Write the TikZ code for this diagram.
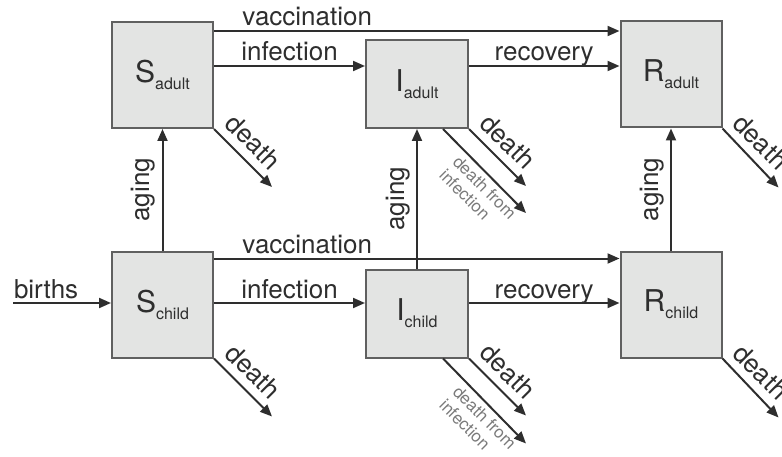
\documentclass[tikz,border=0pt]{standalone}
\usepackage{fontspec}
\setmainfont{TeX Gyre Heros}
\usetikzlibrary{arrows.meta,calc}
\definecolor{boxfill}{HTML}{E3E4E3}
\definecolor{boxline}{HTML}{606060}
\definecolor{ink}{HTML}{2E2E2E}
\definecolor{faint}{HTML}{7A7A7A}
\newcommand{\boxlabel}[2]{{\fontsize{15}{18}\selectfont #1}\raisebox{-3.5pt}{\fontsize{8}{10}\selectfont #2}}

\begin{document}
\begin{tikzpicture}[x=0.5pt, y=0.5pt,
    compart/.style={draw=boxline, line width=1pt, fill=boxfill, text=ink, minimum width=50.5pt, minimum height=53pt, inner sep=0pt},
    infbox/.style={compart, minimum width=51pt, minimum height=44pt},
    arr/.style={-{Triangle[length=6pt,width=5pt]}, line width=1pt, draw=ink},
    lbl/.style={font=\fontsize{13}{15}\selectfont, text=ink, inner sep=0pt},
    flow/.style={lbl, anchor=base, yshift=2.5pt},
    tilt/.style={lbl, rotate=-45, anchor=south, inner sep=4pt},
    upright/.style={lbl, rotate=90, anchor=south, inner sep=3pt},
    smalllbl/.style={font=\fontsize{8.5}{9.5}\selectfont, text=faint, align=left, rotate=-45, anchor=north, inner sep=2pt}
]
\useasboundingbox (0,0) rectangle (782,456);

\node[compart] (Sa) at (162.5,381) {\boxlabel{S}{adult}};
\node[infbox] (Ia) at (417,372) {\boxlabel{I}{adult}};
\node[compart] (Ra) at (671,381.5) {\boxlabel{R}{adult}};
\node[compart] (Sc) at (162.5,151.5) {\boxlabel{S}{child}};
\node[infbox] (Ic) at (417,142.5) {\boxlabel{I}{child}};
\node[compart] (Rc) at (671,151.5) {\boxlabel{R}{child}};

\draw[arr] ($(Sa.north east)+(0,-10)$) coordinate (v1) -- (v1 -| Ra.west) node[flow, pos=.23] {vaccination};
\draw[arr] ($(Sa.north east)+(0,-45)$) coordinate (f1) -- (f1 -| Ia.west) node[flow, midway] {infection};
\draw[arr] (f1 -| Ia.east) -- (f1 -| Ra.west) node[flow, midway] {recovery};

\draw[arr] ($(Sc.north east)+(0,-8)$) coordinate (v2) -- (v2 -| Rc.west) node[flow, pos=.23] {vaccination};
\draw[arr] ($(Sc.east)+(0,1.5)$) coordinate (f2) -- (f2 -| Ic.west) node[flow, midway] {infection};
\draw[arr] (f2 -| Ic.east) -- (f2 -| Rc.west) node[flow, midway] {recovery};

\coordinate (src) at (13,153);
\draw[arr] (src) -- (src -| Sc.west) node[flow, pos=0, anchor=base west] {births};

\draw[arr] (Sc.north) -- (Sa.south) node[upright, midway] {aging};
\draw[arr] (Ic.north) -- (Ia.south) node[upright, midway] {aging};
\draw[arr] (Rc.north) -- (Ra.south) node[upright, midway] {aging};

\coordinate (SaD) at ($(Sa.south east)+(58,-58)$);
\coordinate (IaD) at ($(Ia.south east)+(57,-57)$);
\coordinate (IaX) at ($(Ia.south east)+(57,-84)$);
\coordinate (RaD) at ($(Ra.south east)+(56,-59)$);
\coordinate (ScD) at ($(Sc.south east)+(58,-58)$);
\coordinate (IcD) at ($(Ic.south east)+(57,-57)$);
\coordinate (IcX) at ($(Ic.south east)+(57,-85)$);
\coordinate (RcD) at ($(Rc.south east)+(56,-59)$);

\draw[arr] (Sa.south east) -- (SaD) node[tilt, pos=.45] {death};
\draw[arr] (Ia.south east) -- (IaD) node[tilt, pos=.45] {death};
\draw[arr] ($(Ia.south east)+(-26,0)$) -- (IaX) node[smalllbl, pos=.6] {death from\\infection};
\draw[arr] (Ra.south east) -- (RaD) node[tilt, pos=.45] {death};
\draw[arr] (Sc.south east) -- (ScD) node[tilt, pos=.45] {death};
\draw[arr] (Ic.south east) -- (IcD) node[tilt, pos=.45] {death};
\draw[arr] ($(Ic.south east)+(-26,0)$) -- (IcX) node[smalllbl, pos=.6] {death from\\infection};
\draw[arr] (Rc.south east) -- (RcD) node[tilt, pos=.45] {death};
\end{tikzpicture}
\end{document}
